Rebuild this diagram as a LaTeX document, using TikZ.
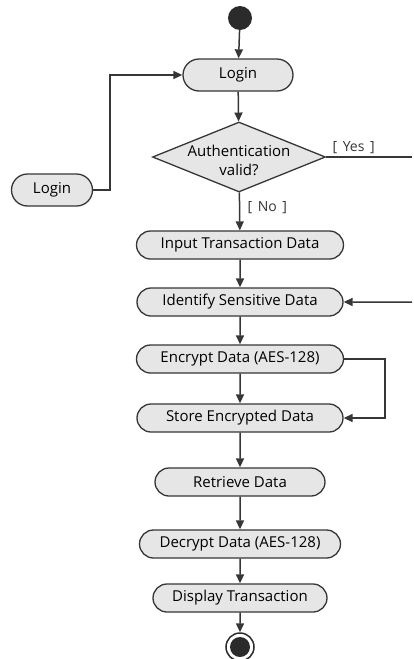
\documentclass[tikz,border=0pt]{standalone}
\usepackage{fontspec}
\setmainfont{Open Sans}
\usetikzlibrary{shapes}
\usetikzlibrary{arrows.meta}
\definecolor{actfill}{HTML}{E6E6E6}
\definecolor{actline}{HTML}{363636}
\newcommand{\guardfont}{\fontsize{14}{16}\selectfont\spaceskip=0.4em\relax}
\tikzset{activity/.style={rounded rectangle, draw=actline, fill=actfill, line width=1.3pt, minimum height=28pt, inner sep=0pt, font=\fontsize{15}{17}\selectfont}}
\tikzset{decision/.style={diamond, draw=actline, fill=actfill, line width=1.3pt, shape aspect=2.47, minimum width=173pt, minimum height=70pt, inner sep=-10pt, align=center, font=\fontsize{15}{19}\selectfont}}
\tikzset{startdot/.style={circle, fill=actline!80!black, minimum size=24pt, inner sep=0pt}}
\tikzset{stopdot/.style={circle, draw=actline!80!black, line width=1.5pt, minimum size=28pt, inner sep=0pt, path picture={\fill[actline!80!black] (path picture bounding box.center) circle (10pt);}}}
\tikzset{flow/.style={draw=actline, line width=1.5pt, -{Triangle[length=9pt,width=8pt]}}}
\tikzset{guard/.style={font=\guardfont, text=actline}}

\begin{document}
\begin{tikzpicture}[x=1pt,y=-1pt]
  \useasboundingbox (0,0) rectangle (414,659);
  \node[startdot] (start) at (240,18) {};
  \node[activity, minimum width=110pt, minimum height=32pt] (login) at (238,75) {Login};
  \node[decision] (auth) at (239,157) {\raisebox{-9pt}[0pt][0pt]{\begin{tabular}{@{}c@{}}Authentication\\valid?\end{tabular}}};
  \node[activity, minimum width=81pt, minimum height=32pt] (relogin) at (52,190) {Login};
  \foreach \y/\w/\lab/\txt in {
    245/207/input/Input Transaction Data,
    302/206/identify/Identify Sensitive Data,
    359/207/encrypt/Encrypt Data (AES-128),
    418/206/store/Store Encrypted Data,
    482/170/retrieve/Retrieve Data,
    544/201/decrypt/Decrypt Data (AES-128),
    598/174/display/Display Transaction%
  } {
    \node[activity, minimum width=\w pt] (\lab) at (240,\y) {\txt};
  }
  \node[stopdot] (stop) at (240,647) {};

  \coordinate (yesend) at (412,157);
  \coordinate (backin) at (412,302);

  \foreach \u/\v in {
    start/login,
    login/auth,
    input/identify,
    identify/encrypt,
    encrypt/store,
    store/retrieve,
    retrieve/decrypt,
    decrypt/display,
    display/stop%
  }{
    \draw[flow] (\u) -- (\v);
  }
  \draw[flow] (auth) -- node[right, guard, xshift=4pt, pos=0.4] {[ No ]} (input);
  \draw[draw=actline, line width=1.5pt] (auth.east) -- node[above, guard, pos=0.32, yshift=-1pt] {[ Yes ]} (yesend);
  \draw[flow] (backin) -- (identify);
  \draw[flow] (relogin.east) -- ++(17,0) |- (login.west);
  \draw[flow] (encrypt.east) -- ++(41,0) |- (store.east);
\end{tikzpicture}
\end{document}
